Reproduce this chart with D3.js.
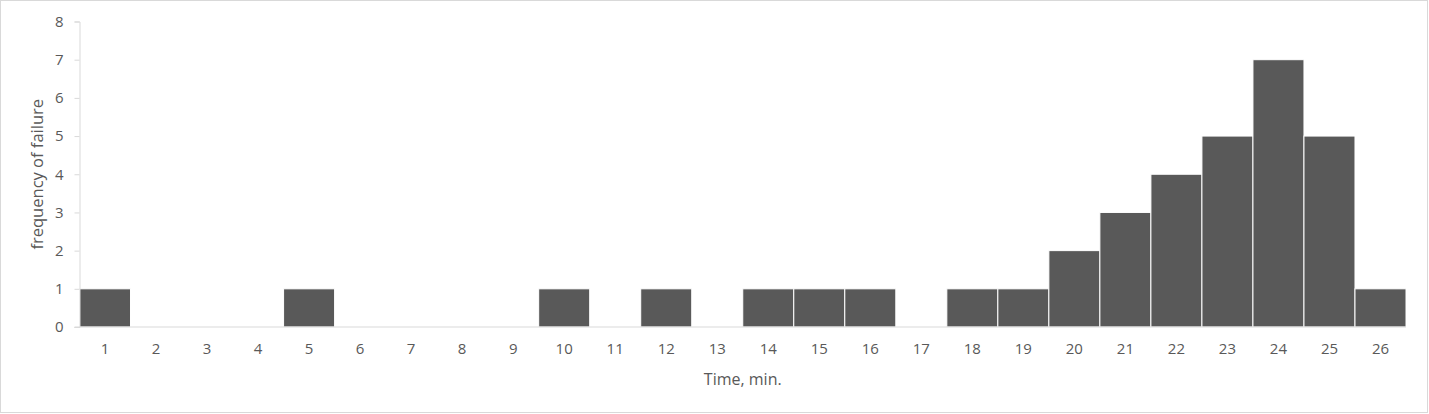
<!DOCTYPE html>
<html>
<head>
<meta charset="utf-8">
<script src="https://cdn.jsdelivr.net/npm/d3@7"></script>
<style>
  html, body { margin: 0; padding: 0; background: #fff; }
  svg { display: block; }
  text { font-family: "Open Sans", "Liberation Sans", sans-serif; fill: #595959; }
</style>
</head>
<body>
<svg id="chart" width="1429" height="414"></svg>
<script>
const categories = ["1","2","3","4","5","6","7","8","9","10","11","12","13","14","15","16","17","18","19","20","21","22","23","24","25","26"];
const frequency = [1,0,0,0,1,0,0,0,0,1,0,1,0,1,1,1,0,1,1,2,3,4,5,7,5,1];
const yTicks = [0,1,2,3,4,5,6,7,8];
const xTitle = "Time, min.";
const yTitle = "frequency of failure";

const svg = d3.select("#chart");
const W = 1429, H = 414;
const m = {left: 79.5, right: 23, top: 21.5, bottom: 87};

svg.append("rect").attr("x", 0.5).attr("y", 0.5).attr("width", W - 2).attr("height", H - 2)
  .attr("fill", "#fff").attr("stroke", "#d9d9d9").attr("stroke-width", 1);

const x = d3.scaleBand().domain(categories).range([m.left, W - m.right]).padding(0);
const y = d3.scaleLinear().domain([0, 8]).range([H - m.bottom, m.top]);

// bars
svg.append("g").selectAll("rect").data(frequency).join("rect")
  .attr("x", (d, i) => x(categories[i]))
  .attr("y", d => y(d))
  .attr("width", x.bandwidth())
  .attr("height", d => y(0) - y(d))
  .attr("fill", "#595959")
  .attr("stroke", "#ffffff")
  .attr("stroke-width", 1);

// y axis
const yAxis = svg.append("g").attr("transform", `translate(${m.left},0)`)
  .call(d3.axisLeft(y).tickValues(yTicks).tickSize(5).tickPadding(11));
yAxis.select(".domain").attr("stroke", "#d9d9d9");
yAxis.selectAll(".tick line").attr("stroke", "#d9d9d9");
yAxis.selectAll(".tick text").attr("font-size", 15).attr("fill", "#595959")
  .attr("font-family", "'Open Sans', sans-serif");

// x axis
const xAxis = svg.append("g").attr("transform", `translate(0,${y(0)})`)
  .call(d3.axisBottom(x).tickSize(0).tickPadding(16));
xAxis.select(".domain").attr("stroke", "#d9d9d9").attr("d", `M${m.left - 5},0H${W - m.right}`);
xAxis.selectAll(".tick text").attr("font-size", 15).attr("fill", "#595959")
  .attr("font-family", "'Open Sans', sans-serif");

// titles
svg.append("text").attr("x", (m.left + W - m.right) / 2).attr("y", 385)
  .attr("text-anchor", "middle").attr("font-size", 16).text(xTitle);
svg.append("text").attr("transform", `translate(43,${(m.top + H - m.bottom) / 2}) rotate(-90)`)
  .attr("text-anchor", "middle").attr("font-size", 16.5).text(yTitle);
</script>
</body>
</html>
